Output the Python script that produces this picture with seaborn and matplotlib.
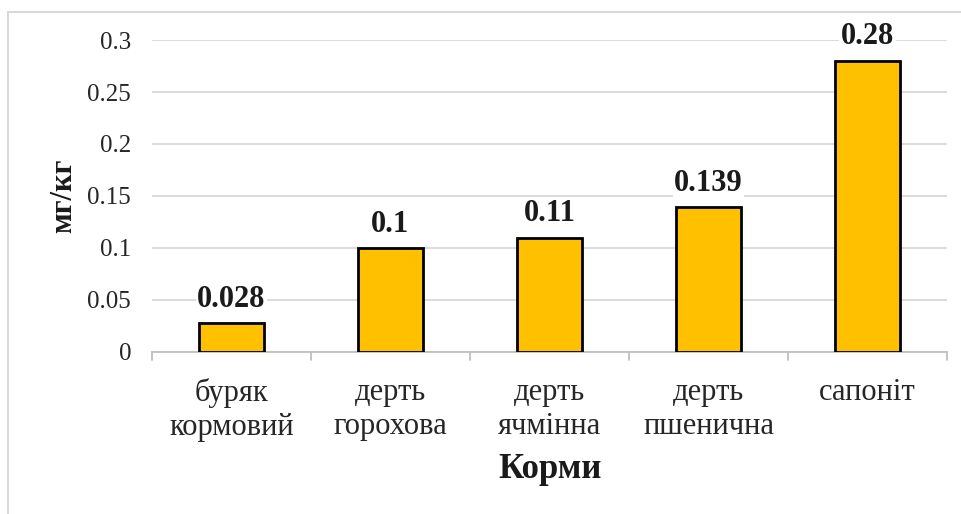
import seaborn as sns
import matplotlib

matplotlib.use("Agg")
import matplotlib.pyplot as plt
from matplotlib.patches import Rectangle

categories = ["буряк\nкормовий", "дерть\nгорохова", "дерть\nячмінна", "дерть\nпшенична", "сапоніт"]
values = [0.028, 0.1, 0.11, 0.139, 0.28]
value_labels = ["0.028", "0.1", "0.11", "0.139", "0.28"]
y_ticks = [0, 0.05, 0.1, 0.15, 0.2, 0.25, 0.3]
y_tick_labels = ["0", "0.05", "0.1", "0.15", "0.2", "0.25", "0.3"]

sns.set_style("white")
plt.rcParams["font.family"] = ["Liberation Serif", "DejaVu Serif"]
plt.rcParams["text.color"] = "#1a1a1a"
plt.rcParams["axes.labelcolor"] = "#1a1a1a"
plt.rcParams["xtick.labelcolor"] = "#262626"
plt.rcParams["ytick.labelcolor"] = "#262626"

fig = plt.figure(figsize=(9.62, 5.14), dpi=100)
# axes box in pixels: x 152..947, y 40..352
ax_l, ax_r, ax_t, ax_b = 152, 947, 40, 352
ax = fig.add_axes([ax_l / 962, 1 - ax_b / 514, (ax_r - ax_l) / 962, (ax_b - ax_t) / 514])
ax_w, ax_h = ax_r - ax_l, ax_b - ax_t

sns.barplot(x=categories, y=values, color="#FFC000", edgecolor="black",
            linewidth=2, width=0.41, saturation=1, ax=ax, zorder=3)

ax.set_ylim(0, 0.3)
ax.set_yticks(y_ticks)
ax.set_yticklabels(y_tick_labels, fontsize=18)
ax.yaxis.grid(True, color="#d9d9d9", linewidth=1.3, zorder=0)
ax.set_axisbelow(True)
ax.tick_params(axis="y", length=0, pad=15)
ax.tick_params(axis="x", labelsize=22, length=0, pad=19)
for t in ax.get_xticklabels():
    t.set_linespacing(1.2)
ax.set_xlim(-0.5, len(categories) - 0.5)

for side in ["top", "right", "left"]:
    ax.spines[side].set_visible(False)
ax.spines["bottom"].set_color("#bfbfbf")
ax.spines["bottom"].set_linewidth(1.3)
for i in range(len(categories) + 1):
    ax.plot([i - 0.5, i - 0.5], [0, -0.008], color="#bfbfbf", lw=1.3,
            clip_on=False, transform=ax.transData)

for i, (v, lab) in enumerate(zip(values, value_labels)):
    ax.text(i, v + 0.009, lab, ha="center", va="bottom", fontsize=22,
            fontweight="bold", zorder=5,
            bbox=dict(facecolor="white", edgecolor="none", pad=1))

ax.set_ylabel("мг/кг", fontsize=22, fontweight="bold", va="center")
ax.yaxis.set_label_coords((64 - ax_l) / ax_w, 0.5)
ax.set_xlabel("Корми", fontsize=25, fontweight="bold", va="center")
ax.xaxis.set_label_coords((550 - ax_l) / ax_w, (ax_b - 470) / ax_h)

# outer chart frame (right and bottom edges fall outside the picture)
fig.patches.append(Rectangle((8 / 962, -0.05), 1.0, 1.05 - 12 / 514,
                             transform=fig.transFigure, fill=False,
                             edgecolor="#d9d9d9", linewidth=1.5))

fig.savefig("out.png", dpi=100)
plt.close(fig)
